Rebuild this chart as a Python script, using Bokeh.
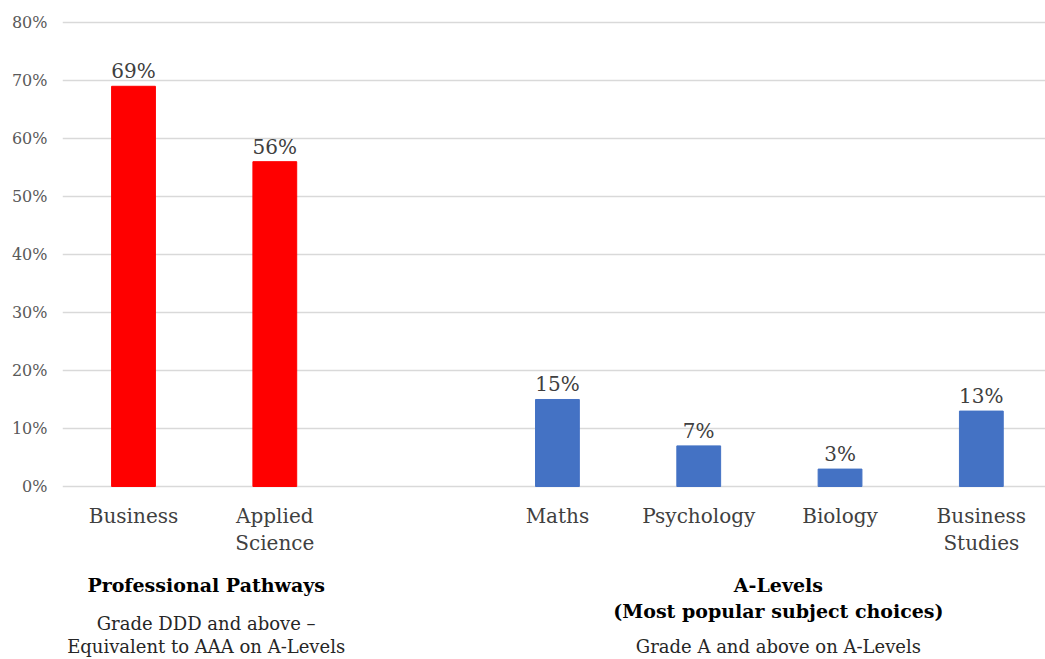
from bokeh.plotting import figure
from bokeh.models import FixedTicker, Range1d
from bokeh.core.properties import value
from bokeh.embed import file_html
from bokeh.resources import INLINE

# ---------------- data ----------------
pathway_labels = ["Business", "Applied\nScience"]
pathway_values = [69, 56]
alevel_labels = ["Maths", "Psychology", "Biology", "Business\nStudies"]
alevel_values = [15, 7, 3, 13]
y_ticks = [0, 10, 20, 30, 40, 50, 60, 70, 80]
group_titles = ["Professional Pathways", "A-Levels\n(Most popular subject choices)"]
group_notes = ["Grade DDD and above \u2013\nEquivalent to AAA on A-Levels",
               "Grade A and above on A-Levels"]

# ---------------- styling ----------------
FONT = "DejaVu Serif"
RED = "#FF0000"
BLUE = "#4472C4"

# slot positions: pathway bars, one empty slot, then A-level bars
px = list(range(len(pathway_labels)))
ax = [len(pathway_labels) + 1 + i for i in range(len(alevel_labels))]

p = figure(width=1045, height=659, output_backend="svg", toolbar_location=None,
           x_range=Range1d(-0.5025, 6.454), y_range=Range1d(-29.83, 83.79),
           min_border_left=62, min_border_right=0, min_border_top=0, min_border_bottom=0)
p.outline_line_color = None
p.xaxis.visible = False
p.xgrid.visible = False

p.yaxis.ticker = FixedTicker(ticks=y_ticks)
p.yaxis.major_label_overrides = {t: f"{t}%" for t in y_ticks}
p.yaxis.axis_line_color = None
p.yaxis.major_tick_line_color = None
p.yaxis.major_tick_out = 0
p.yaxis.major_tick_in = 0
p.yaxis.minor_tick_line_color = None
p.yaxis.major_label_standoff = 15
p.yaxis.major_label_text_font = FONT
p.yaxis.major_label_text_font_size = "16px"
p.yaxis.major_label_text_color = "#595959"

p.ygrid.ticker = FixedTicker(ticks=y_ticks)
p.ygrid.grid_line_color = "#D9D9D9"
p.ygrid.grid_line_width = 1.5

# bars
p.vbar(x=px, top=pathway_values, bottom=0, width=0.31, fill_color=RED, line_color=RED)
p.vbar(x=ax, top=alevel_values, bottom=0, width=0.31, fill_color=BLUE, line_color=BLUE)

# value labels
xs_all = px + ax
vals_all = pathway_values + alevel_values
p.text(x=xs_all, y=vals_all, text=[f"{v}%" for v in vals_all], y_offset=-15,
       text_align="center", text_baseline="alphabetic", text_font=value(FONT),
       text_font_size="20px", text_color="#404040")

# category labels (split in lines)
cx, cy_off, ct = [], [], []
for x, lab in zip(xs_all, pathway_labels + alevel_labels):
    for i, line in enumerate(lab.split("\n")):
        cx.append(x); cy_off.append(30 + 27 * i); ct.append(line)
p.text(x=cx, y=[0] * len(cx), text=ct, y_offset=cy_off,
       text_align="center", text_baseline="alphabetic", text_font=value(FONT),
       text_font_size="20px", text_color="#404040")

# group headings and notes
centers = [sum(px) / len(px), sum(ax) / len(ax)]
x_shift = [2, 9]
hx, hy, ht, hxo = [], [], [], []
for c, s, title in zip(centers, x_shift, group_titles):
    for i, line in enumerate(title.split("\n")):
        hx.append(c); hxo.append(s); hy.append(99 + 26 * i); ht.append(line)
p.text(x=hx, y=[0] * len(hx), text=ht, x_offset=hxo, y_offset=hy,
       text_align="center", text_baseline="alphabetic", text_font=value(FONT),
       text_font_size="19px", text_font_style="bold", text_color="#000000")

nx, ny, nt, nxo = [], [], [], []
for c, s, note, start in zip(centers, x_shift, group_notes, [137, 160]):
    for i, line in enumerate(note.split("\n")):
        nx.append(c); nxo.append(s); ny.append(start + 23 * i); nt.append(line)
p.text(x=nx, y=[0] * len(nx), text=nt, x_offset=nxo, y_offset=ny,
       text_align="center", text_baseline="alphabetic", text_font=value(FONT),
       text_font_size="18px", text_color="#262626")

open("out.html", "w").write(file_html(p, INLINE))
